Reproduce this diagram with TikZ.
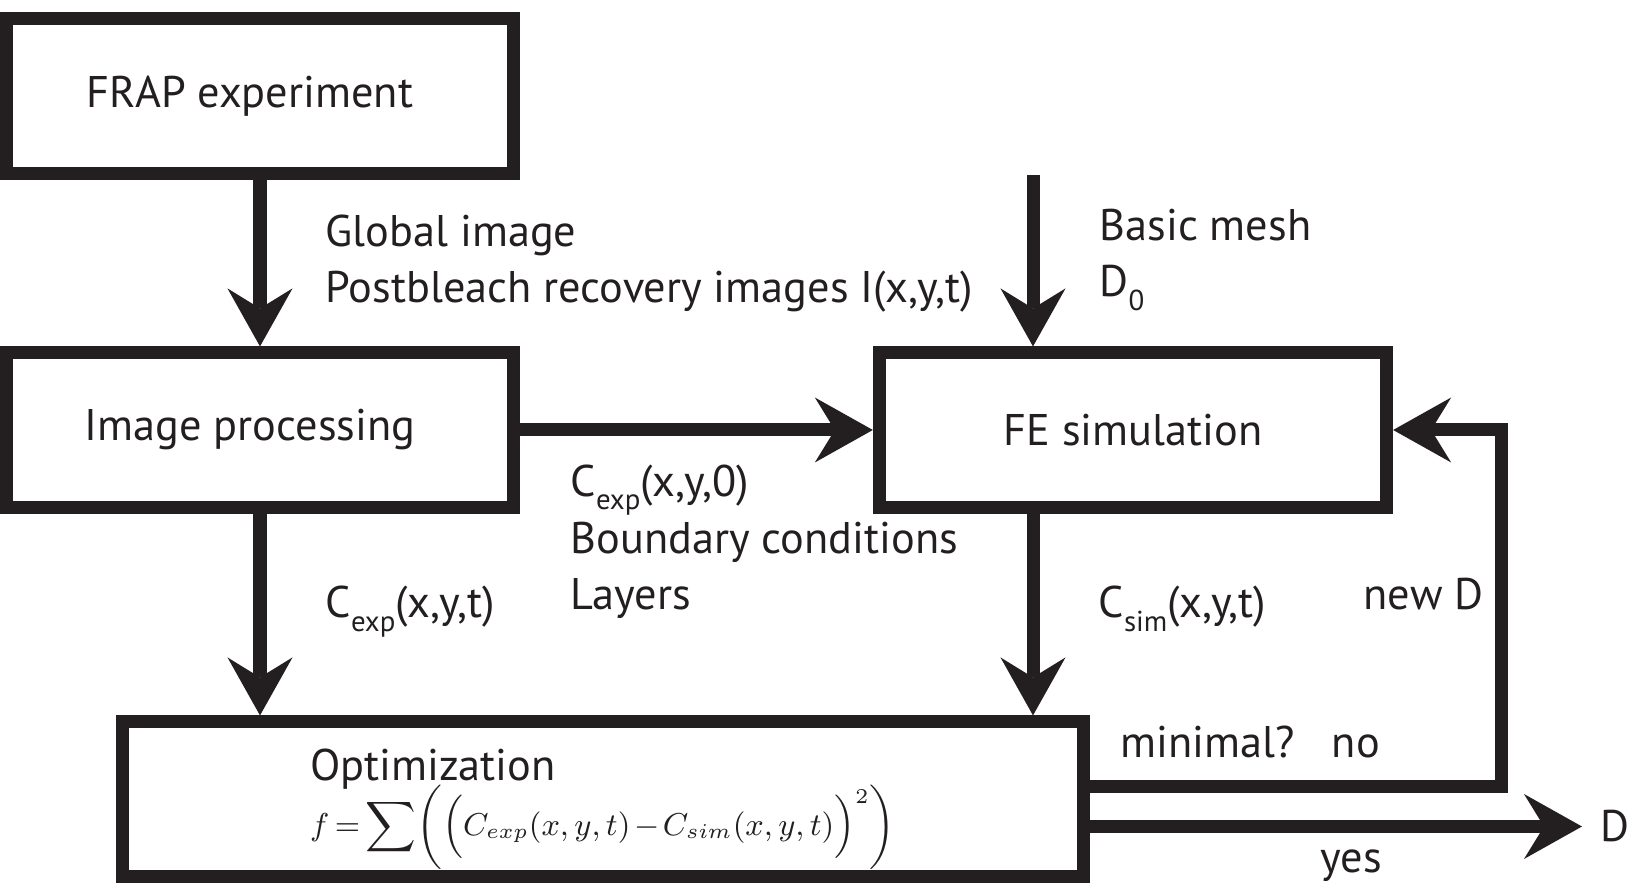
\documentclass[tikz,border=0pt]{standalone}
\usepackage{fontspec}
\setmainfont{PT Sans}
\usetikzlibrary{arrows.meta,positioning}
\definecolor{ink}{HTML}{231F20}
\newcommand\lowsub[1]{\raisebox{-0.3em}{\fontsize{8.2}{8.2}\selectfont #1}}

\begin{document}
\begin{tikzpicture}[
    x=0.01cm, y=-0.01cm,
    font=\fontsize{12.6}{16.2}\selectfont,
    block/.style={draw=ink, line width=0.13cm, minimum width=5.07cm, minimum height=1.54cm, inner sep=0pt, text=ink},
    flow/.style={draw=ink, line width=0.13cm, -{Stealth[length=0.58cm, width=0.65cm, inset=0.2cm, line width=0pt]}},
    lbl/.style={anchor=base west, inner sep=0pt, align=left, text=ink}
]
    \useasboundingbox (0,0) rectangle (1632,886);

    % Boxes
    \node[block] (frap) at (260,96) {FRAP experiment\hspace*{0.2cm}};
    \node[block] (img) at (260,430) {Image processing\hspace*{0.2cm}};
    \node[block] (fe) at (1133,430) {FE simulation};
    \node[block, minimum width=9.6cm, align=left] (opt) at (603,799)
        {\rule{0pt}{0.52cm}Optimization\\[-2.5pt] {\fontsize{8.7}{11}\selectfont\medmuskip=2mu\thickmuskip=3mu
         $\displaystyle f=\sum\biggl(\Bigl(C_{exp}(x,y,t)-C_{sim}(x,y,t)\Bigr)^2\biggr)$}};
    \coordinate (mesh) at (1033,175);

    % Data flow
    \draw[flow] (frap.south) -- (img.north);
    \draw[flow] (mesh) -- (mesh |- fe.north);
    \draw[flow] (img.east) -- (fe.west);
    \draw[flow] (img.south) -- (img.south |- opt.north);
    \draw[flow] (fe.south -| mesh) -- (mesh |- opt.north);

    % Loop and result
    \node[lbl] (dout) at (1600,842) {D};
    \draw[flow] ([yshift=0.12cm]opt.east) -- ++(412,0) |- (fe.east);
    \draw[flow] (opt.east |- dout.west) -- ([xshift=-0.18cm]dout.west);

    % Labels
    \node[lbl] (inimg) at (325,303) {Global image\\Postbleach recovery images I(x,y,t)};
    \node[lbl] (inmesh) at (1099,297) {Basic mesh\\D\lowsub{0}};
    \node[lbl] (inbc) at (570,610) {C\lowsub{exp}(x,y,0)\\Boundary conditions\\Layers};
    \node[lbl] (cexp) at (325,618) {C\lowsub{exp}(x,y,t)};
    \node[lbl] (csim) at (1098,618) {C\lowsub{sim}(x,y,t)};
    \node[lbl] (newd) at (1363,610) {new D};
    \node[lbl] (minq) at (1120,758) {minimal?\hspace{0.37cm}no};
    \node[lbl] (yes) at (1320,873) {yes};
\end{tikzpicture}
\end{document}
